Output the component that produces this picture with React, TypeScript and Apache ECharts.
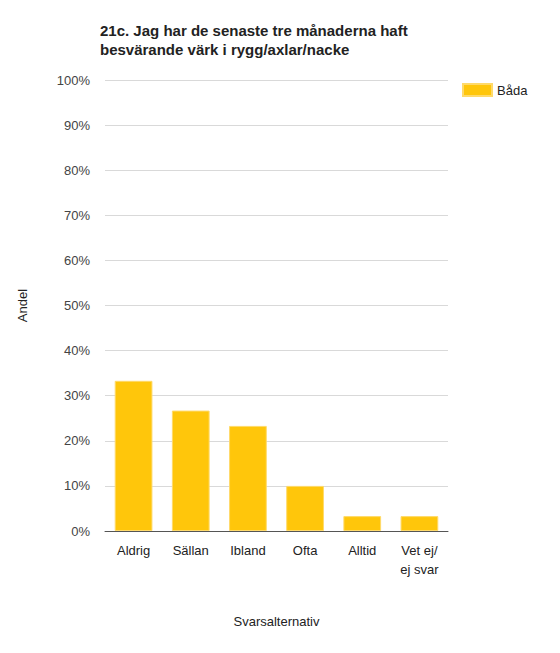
import React, { useEffect, useRef } from "react";
import * as echarts from "echarts";

const categories = ["Aldrig", "Sällan", "Ibland", "Ofta", "Alltid", "Vet ej/\nej svar"];
const values = [33.3, 26.7, 23.3, 10.0, 3.3, 3.3];
const seriesName = "Båda";
const titleText = "21c. Jag har de senaste tre månaderna haft\nbesvärande värk i rygg/axlar/nacke";

export default function App() {
  const ref = useRef<HTMLDivElement>(null);
  useEffect(() => {
    const chart = echarts.init(ref.current!, null, { renderer: "svg" });
    const font = "Arial, 'Liberation Sans', sans-serif";
    chart.setOption({
      animation: false,
      backgroundColor: "#ffffff",
      textStyle: { fontFamily: font },
      title: {
        text: titleText,
        left: 87,
        top: 8,
        padding: 5,
        textStyle: { fontSize: 15, fontWeight: "bold", color: "#222", lineHeight: 19, fontFamily: font },
      },
      legend: {
        data: [{ name: seriesName, icon: "rect" }],
        left: 454,
        top: 75,
        padding: 0,
        itemWidth: 29,
        itemHeight: 12,
        itemGap: 6,
        textStyle: { fontSize: 13, color: "#222", fontFamily: font },
      },
      grid: { left: 92, right: 104, top: 72, bottom: 114, containLabel: false },
      xAxis: {
        type: "category",
        data: categories,
        name: "Svarsalternativ",
        nameLocation: "middle",
        nameGap: 84,
        nameTextStyle: { fontSize: 13, color: "#222" },
        axisLine: { lineStyle: { color: "#555", width: 1 } },
        axisTick: { show: false },
        axisLabel: { fontSize: 13, color: "#222", margin: 10, lineHeight: 19, interval: 0 },
      },
      yAxis: {
        type: "value",
        min: 0,
        max: 100,
        interval: 10,
        name: "Andel",
        nameLocation: "middle",
        nameGap: 76,
        nameRotate: 90,
        nameTextStyle: { fontSize: 13, color: "#222" },
        axisLine: { show: false },
        axisTick: { show: false },
        axisLabel: { fontSize: 13, color: "#444", margin: 15, formatter: "{value}%" },
        splitLine: { lineStyle: { color: "#d9d9d9", width: 1 } },
      },
      series: [
        {
          name: seriesName,
          type: "bar",
          data: values,
          barCategoryGap: "34%",
          itemStyle: { color: "#FFC60B", borderColor: "#FFDA6A", borderWidth: 1 },
        },
      ],
    });
    return () => chart.dispose();
  }, []);
  return <div ref={ref} style={{ width: 544, height: 637 }} />;
}
